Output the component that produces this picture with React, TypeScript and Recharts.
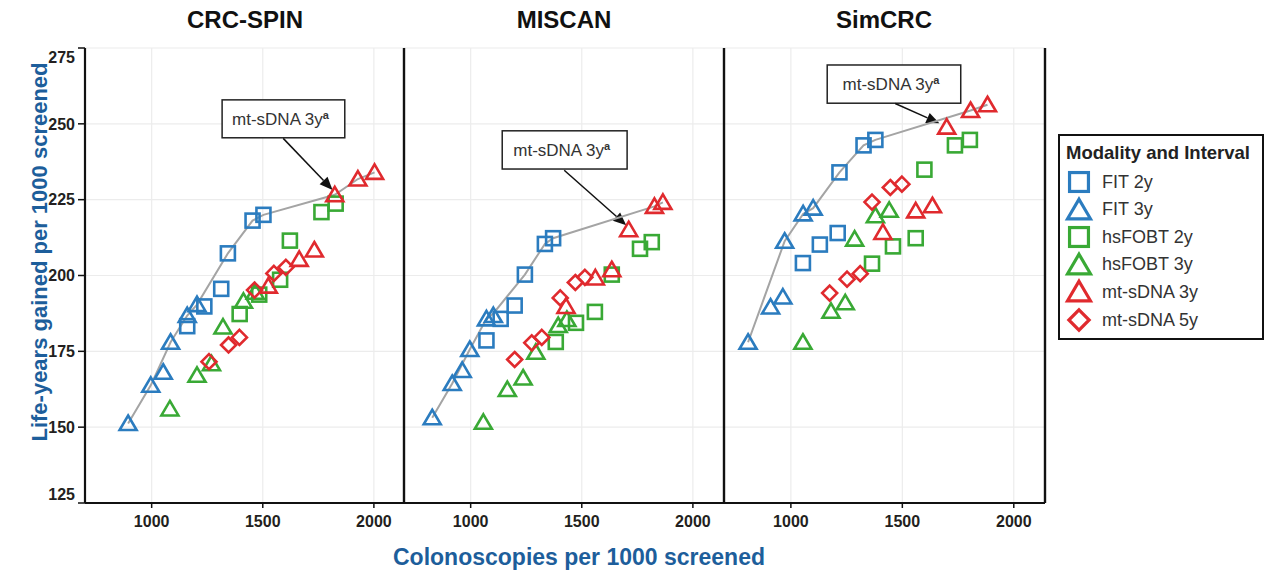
import React from 'react';
import {
  ScatterChart,
  Scatter,
  XAxis,
  YAxis,
  CartesianGrid,
  ReferenceLine,
  ReferenceArea,
} from 'recharts';

// ---- data (colonoscopies per 1000, life-years gained per 1000) ----
const xTicks = [1000, 1500, 2000];
const yTicks = [125, 150, 175, 200, 225, 250, 275];
const modelNames = ['CRC-SPIN', 'MISCAN', 'SimCRC'];
const seriesNames = ['FIT 2y', 'FIT 3y', 'hsFOBT 2y', 'hsFOBT 3y', 'mt-sDNA 3y', 'mt-sDNA 5y'];

const crcFit2y = [
  { x: 1160, y: 183.3 }, { x: 1237, y: 189.8 }, { x: 1313, y: 195.6 },
  { x: 1343, y: 207.3 }, { x: 1454, y: 218.1 }, { x: 1503, y: 220 },
];
const crcFit3y = [
  { x: 894, y: 151.2 }, { x: 996, y: 163.8 }, { x: 1052, y: 168.1 },
  { x: 1085, y: 178 }, { x: 1160, y: 186.8 }, { x: 1204, y: 190.4 },
];
const crcHs2y = [
  { x: 1396, y: 187.3 }, { x: 1484, y: 193.7 }, { x: 1578, y: 198.6 },
  { x: 1622, y: 211.5 }, { x: 1764, y: 220.9 }, { x: 1828, y: 223.7 },
];
const crcHs3y = [
  { x: 1082, y: 156 }, { x: 1204, y: 167.1 }, { x: 1269, y: 170.9 },
  { x: 1321, y: 183 }, { x: 1413, y: 191.5 }, { x: 1466, y: 194.5 },
];
const crcMt3y = [
  { x: 1525, y: 196.5 }, { x: 1664, y: 205.3 }, { x: 1732, y: 208.4 },
  { x: 1824, y: 226.6 }, { x: 1928, y: 231.8 }, { x: 2003, y: 234 },
];
const crcMt5y = [
  { x: 1258, y: 171.6 }, { x: 1346, y: 177.1 }, { x: 1395, y: 179.6 },
  { x: 1463, y: 195.2 }, { x: 1550, y: 200.7 }, { x: 1604, y: 202.7 },
];
const crcFrontier = [
  { x: 894, y: 151.2 }, { x: 996, y: 163.8 }, { x: 1085, y: 178 }, { x: 1160, y: 186.8 },
  { x: 1204, y: 190.4 }, { x: 1343, y: 207.3 }, { x: 1454, y: 218.1 }, { x: 1503, y: 220 },
  { x: 1824, y: 226.6 }, { x: 1928, y: 231.8 }, { x: 2003, y: 234 },
];

const misFit2y = [
  { x: 1071, y: 178.6 }, { x: 1135, y: 185.7 }, { x: 1198, y: 190.1 },
  { x: 1244, y: 200.3 }, { x: 1334, y: 210.4 }, { x: 1371, y: 212.3 },
];
const misFit3y = [
  { x: 827, y: 153.1 }, { x: 917, y: 164.4 }, { x: 962, y: 168.7 },
  { x: 996, y: 175.6 }, { x: 1071, y: 185.7 }, { x: 1102, y: 186.8 },
];
const misHs2y = [
  { x: 1383, y: 178.1 }, { x: 1474, y: 184.4 }, { x: 1559, y: 188 },
  { x: 1635, y: 200.3 }, { x: 1762, y: 208.8 }, { x: 1815, y: 211 },
];
const misHs3y = [
  { x: 1057, y: 151.6 }, { x: 1165, y: 162.4 }, { x: 1236, y: 166.2 },
  { x: 1293, y: 174.7 }, { x: 1394, y: 183.5 }, { x: 1433, y: 185.5 },
];
const misMt3y = [
  { x: 1429, y: 189.8 }, { x: 1561, y: 199.2 }, { x: 1635, y: 201.9 },
  { x: 1711, y: 215.1 }, { x: 1827, y: 222.8 }, { x: 1865, y: 224.1 },
];
const misMt5y = [
  { x: 1198, y: 172.3 }, { x: 1275, y: 177.8 }, { x: 1320, y: 179.6 },
  { x: 1403, y: 192.6 }, { x: 1471, y: 197.7 }, { x: 1514, y: 199.4 },
];
const misFrontier = [
  { x: 827, y: 153.1 }, { x: 917, y: 164.4 }, { x: 996, y: 175.6 }, { x: 1071, y: 185.7 },
  { x: 1102, y: 187.5 }, { x: 1244, y: 200.3 }, { x: 1334, y: 210.4 }, { x: 1371, y: 212.3 },
  { x: 1827, y: 222.8 }, { x: 1865, y: 224.1 },
];

const simFit2y = [
  { x: 1054, y: 204.1 }, { x: 1130, y: 210.2 }, { x: 1210, y: 214 },
  { x: 1218, y: 234 }, { x: 1326, y: 242.9 }, { x: 1379, y: 244.7 },
];
const simFit3y = [
  { x: 808, y: 178 }, { x: 909, y: 189.6 }, { x: 964, y: 192.9 },
  { x: 972, y: 211.3 }, { x: 1055, y: 220.3 }, { x: 1100, y: 222.2 },
];
const simHs2y = [
  { x: 1364, y: 203.9 }, { x: 1458, y: 209.6 }, { x: 1560, y: 212.3 },
  { x: 1599, y: 234.9 }, { x: 1736, y: 242.9 }, { x: 1803, y: 244.7 },
];
const simHs3y = [
  { x: 1054, y: 178 }, { x: 1180, y: 188.2 }, { x: 1244, y: 191 },
  { x: 1286, y: 212 }, { x: 1379, y: 219.7 }, { x: 1441, y: 221.5 },
];
const simMt3y = [
  { x: 1413, y: 214.2 }, { x: 1560, y: 221.3 }, { x: 1635, y: 223 },
  { x: 1699, y: 248.9 }, { x: 1806, y: 254.4 }, { x: 1882, y: 256.3 },
];
const simMt5y = [
  { x: 1174, y: 194.2 }, { x: 1252, y: 198.8 }, { x: 1311, y: 200.6 },
  { x: 1364, y: 224.2 }, { x: 1446, y: 229 }, { x: 1498, y: 230.1 },
];
const simFrontier = [
  { x: 808, y: 178 }, { x: 972, y: 211.3 }, { x: 1055, y: 220.3 }, { x: 1100, y: 222.2 },
  { x: 1218, y: 234 }, { x: 1326, y: 242.9 }, { x: 1379, y: 244.7 },
  { x: 1806, y: 254.4 }, { x: 1882, y: 256.3 },
];

// annotation box + arrow, in data units
const crcNote = { box: [1317, 1869, 245.4, 257.9], from: [1592, 245.2], to: [1814, 228.2] };
const misNote = { box: [1142, 1704, 235.1, 247.7], from: [1421, 234.7], to: [1700, 216.6] };
const simNote = { box: [1163, 1762, 256.8, 269.4], from: [1468, 256.7], to: [1666, 250.2] };

// ---- styles ----
const X_DOMAIN = [700, 2140];
const Y_DOMAIN = [125, 275];
const BLUE = '#2b7cbf';
const GREEN = '#39a935';
const RED = '#e02a2e';
const TITLE_BLUE = '#1d5e9b';
const FONT = '"Liberation Sans", Arial, sans-serif';
const colors = [BLUE, BLUE, GREEN, GREEN, RED, RED];
const kinds = ['square', 'triangle', 'square', 'triangle', 'triangle', 'diamond'];

const Marker = ({ kind, cx, cy, color, s = 1, sw = 2.6 }: any) => {
  if (kind === 'square') {
    const h = 7 * s;
    return <rect x={cx - h} y={cy - h} width={2 * h} height={2 * h} fill="none" stroke={color} strokeWidth={sw} />;
  }
  if (kind === 'triangle') {
    const pts = `${cx},${cy - 8 * s} ${cx + 8.5 * s},${cy + 6.5 * s} ${cx - 8.5 * s},${cy + 6.5 * s}`;
    return <polygon points={pts} fill="none" stroke={color} strokeWidth={sw} strokeLinejoin="miter" />;
  }
  const d = 7.5 * s;
  const pts = `${cx},${cy - d} ${cx + d},${cy} ${cx},${cy + d} ${cx - d},${cy}`;
  return <polygon points={pts} fill="none" stroke={color} strokeWidth={sw} />;
};

const shapeFor = (i: number) => (props: any) => (
  <Marker kind={kinds[i]} cx={props.cx} cy={props.cy} color={colors[i]} />
);

const YTick = (props: any) => {
  const { x, y, payload } = props;
  let off = 0;
  if (payload.value === 275) off = 9;
  if (payload.value === 125) off = -9;
  return (
    <text x={x} y={y + off} dy="0.36em" textAnchor="end" fontFamily={FONT} fontWeight="bold" fontSize={16} fill="#231f20">
      {payload.value}
    </text>
  );
};

const noteBox = (props: any) => {
  const { x, y, width, height } = props;
  return (
    <g>
      <rect x={x} y={y} width={width} height={height} fill="#fff" stroke="#222" strokeWidth={1.5} />
      <text x={x + width / 2 - 3} y={y + height / 2} dy="0.36em" textAnchor="middle" fontFamily={FONT} fontSize={17} fill="#333">
        mt-sDNA 3y
        <tspan dy={-6} fontSize={11} fontWeight="bold">a</tspan>
      </text>
    </g>
  );
};

const arrow = (props: any) => {
  const { x1, y1, x2, y2 } = props;
  const a = Math.atan2(y2 - y1, x2 - x1);
  const len = 13;
  const w = 5.5;
  const bx = x2 - len * Math.cos(a);
  const by = y2 - len * Math.sin(a);
  const px = -Math.sin(a) * w;
  const py = Math.cos(a) * w;
  return (
    <g>
      <line x1={x1} y1={y1} x2={bx} y2={by} stroke="#111" strokeWidth={1.5} />
      <polygon points={`${x2},${y2} ${bx + px},${by + py} ${bx - px},${by - py}`} fill="#111" />
    </g>
  );
};

const Panel = ({ series, frontier, note, first, last, width, marginLeft }: any) => (
  <ScatterChart
    width={width}
    height={572}
    margin={{ top: 48, right: 5, bottom: 0, left: marginLeft }}
  >
    <CartesianGrid stroke="#ececec" strokeWidth={1.2} horizontalValues={yTicks} verticalValues={xTicks} />
    <XAxis
      type="number"
      dataKey="x"
      domain={X_DOMAIN}
      ticks={xTicks}
      allowDataOverflow
      height={69}
      axisLine={{ stroke: '#111', strokeWidth: 2.2 }}
      tickLine={{ stroke: '#111', strokeWidth: 1.5 }}
      tickSize={5}
      tickMargin={8}
      tick={{ fontFamily: FONT, fontWeight: 'bold', fontSize: 16, fill: '#231f20' }}
    />
    {first ? (
      <YAxis
        type="number"
        dataKey="y"
        domain={Y_DOMAIN}
        ticks={yTicks}
        allowDataOverflow
        width={85}
        axisLine={{ stroke: '#111', strokeWidth: 2.2 }}
        tickLine={{ stroke: '#111', strokeWidth: 1.5 }}
        tickSize={7}
        tickMargin={3}
        tick={<YTick />}
      />
    ) : (
      <YAxis type="number" dataKey="y" domain={Y_DOMAIN} ticks={yTicks} allowDataOverflow hide />
    )}
    {!first && <ReferenceLine x={X_DOMAIN[0]} stroke="#111" strokeWidth={2.4} />}
    {last && <ReferenceLine x={X_DOMAIN[1]} stroke="#111" strokeWidth={2.4} />}
    <Scatter
      data={frontier}
      line={{ stroke: '#a4a4a4', strokeWidth: 2 }}
      stroke="#a4a4a4"
      shape={() => <g />}
      legendType="none"
      isAnimationActive={false}
    />
    {series.map((d: any, i: number) => (
      <Scatter key={seriesNames[i]} name={seriesNames[i]} data={d} shape={shapeFor(i)} isAnimationActive={false} />
    ))}
    <ReferenceArea x1={note.box[0]} x2={note.box[1]} y1={note.box[2]} y2={note.box[3]} shape={noteBox} ifOverflow="visible" />
    <ReferenceLine
      segment={[{ x: note.from[0], y: note.from[1] }, { x: note.to[0], y: note.to[1] }]}
      shape={arrow}
      ifOverflow="visible"
    />
  </ScatterChart>
);

const titleStyle: React.CSSProperties = {
  position: 'absolute',
  top: 6,
  width: 320,
  textAlign: 'center',
  fontFamily: FONT,
  fontWeight: 'bold',
  fontSize: 24,
  color: '#111',
};

export default function App() {
  const legendRowTop = [180, 207.6, 235.2, 262.8, 290.4, 318];
  return (
    <div style={{ position: 'absolute', left: 0, top: 0, width: 1266, height: 572, background: '#fff', overflow: 'hidden' }}>
      <div style={{ position: 'absolute', left: 0, top: 0 }}>
        <Panel
          series={[crcFit2y, crcFit3y, crcHs2y, crcHs3y, crcMt3y, crcMt5y]}
          frontier={crcFrontier}
          note={crcNote}
          first
          width={410}
          marginLeft={0}
        />
      </div>
      <div style={{ position: 'absolute', left: 399, top: 0 }}>
        <Panel
          series={[misFit2y, misFit3y, misHs2y, misHs3y, misMt3y, misMt5y]}
          frontier={misFrontier}
          note={misNote}
          width={330}
          marginLeft={5}
        />
      </div>
      <div style={{ position: 'absolute', left: 719, top: 0 }}>
        <Panel
          series={[simFit2y, simFit3y, simHs2y, simHs3y, simMt3y, simMt5y]}
          frontier={simFrontier}
          note={simNote}
          last
          width={331}
          marginLeft={5}
        />
      </div>

      {modelNames.map((m, i) => (
        <div key={m} style={{ ...titleStyle, left: [85, 404, 724][i] }}>{m}</div>
      ))}

      <div
        style={{
          position: 'absolute',
          left: 40,
          top: 252,
          transform: 'translate(-50%, -50%) rotate(-90deg)',
          whiteSpace: 'nowrap',
          fontFamily: FONT,
          fontWeight: 'bold',
          fontSize: 22,
          color: TITLE_BLUE,
        }}
      >
        Life-years gained per 1000 screened
      </div>
      <div
        style={{
          position: 'absolute',
          left: 579,
          top: 557,
          transform: 'translate(-50%, -50%)',
          whiteSpace: 'nowrap',
          fontFamily: FONT,
          fontWeight: 'bold',
          fontSize: 23,
          color: TITLE_BLUE,
        }}
      >
        Colonoscopies per 1000 screened
      </div>

      <div
        style={{
          position: 'absolute',
          left: 1058,
          top: 134,
          width: 206,
          height: 206,
          boxSizing: 'border-box',
          border: '2.5px solid #111',
          fontFamily: FONT,
        }}
      >
        <div style={{ position: 'absolute', left: 6, top: 6, fontWeight: 'bold', fontSize: 18.5, color: '#222', whiteSpace: 'nowrap' }}>
          Modality and Interval
        </div>
        {seriesNames.map((n, i) => (
          <div
            key={n}
            style={{
              position: 'absolute',
              left: 4,
              top: legendRowTop[i] - 134 - 14,
              height: 28,
              display: 'flex',
              alignItems: 'center',
              whiteSpace: 'nowrap',
            }}
          >
            <svg width={30} height={28} style={{ display: 'block' }}>
              <Marker kind={kinds[i]} cx={15} cy={14} color={colors[i]} s={1.35} sw={3.2} />
            </svg>
            <span style={{ marginLeft: 8, fontSize: 18, color: '#333' }}>{n}</span>
          </div>
        ))}
      </div>
    </div>
  );
}
